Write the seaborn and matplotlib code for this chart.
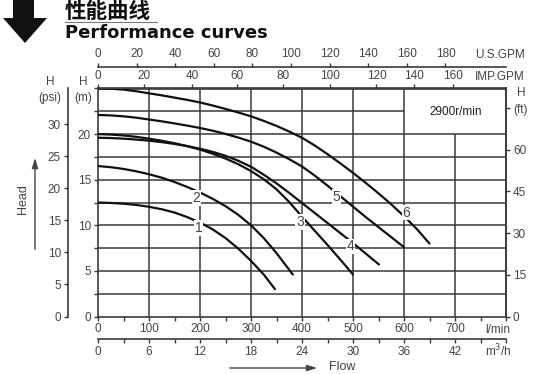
import numpy as np
import pandas as pd
import seaborn as sns
import matplotlib.pyplot as plt
from matplotlib.patches import Polygon
from matplotlib.lines import Line2D
from matplotlib.ticker import MultipleLocator

# ---- data (flow in l/min, head in m) ----
q1 = [0, 25, 50, 75, 100, 125, 150, 175, 200, 225, 250, 275, 300, 325, 347]
h1 = [12.5, 12.45, 12.37, 12.23, 12.03, 11.76, 11.4, 10.9, 10.3, 9.55, 8.6, 7.45, 6.1, 4.6, 3.0]
q2 = [0, 25, 50, 75, 100, 125, 150, 175, 200, 225, 250, 275, 300, 325, 350, 382]
h2 = [16.5, 16.37, 16.18, 15.92, 15.6, 15.22, 14.75, 14.2, 13.6, 12.9, 12.1, 11.15, 10.0, 8.6, 6.95, 4.6]
q3 = [0, 25, 50, 75, 100, 125, 150, 175, 200, 225, 250, 275, 300, 325, 350, 375, 400, 425, 450, 475, 500]
h3 = [20.0, 19.95, 19.85, 19.7, 19.5, 19.27, 19.0, 18.68, 18.3, 17.85, 17.32, 16.7, 15.95, 15.05, 13.95,
      12.55, 10.95, 9.4, 7.85, 6.25, 4.6]
q4 = [0, 25, 50, 75, 100, 125, 150, 175, 200, 225, 250, 275, 300, 325, 350, 375, 400, 425, 450, 475,
      500, 525, 551]
h4 = [19.6, 19.57, 19.5, 19.4, 19.28, 19.12, 18.92, 18.68, 18.4, 18.05, 17.62, 17.08, 16.42, 15.55,
      14.6, 13.55, 12.45, 11.35, 10.25, 9.15, 8.05, 6.9, 5.7]
q5 = [0, 25, 50, 75, 100, 125, 150, 175, 200, 225, 250, 275, 300, 325, 350, 375, 400, 425, 450, 475,
      500, 525, 550, 575, 600]
h5 = [22.1, 22.05, 21.95, 21.8, 21.6, 21.4, 21.17, 20.93, 20.67, 20.37, 20.02, 19.62, 19.17, 18.62,
      17.97, 17.25, 16.45, 15.45, 14.35, 13.2, 12.05, 10.9, 9.8, 8.7, 7.6]
q6 = [0, 25, 50, 75, 100, 125, 150, 175, 200, 225, 250, 275, 300, 325, 350, 375, 400, 425, 450, 475,
      500, 525, 550, 575, 600, 625, 650]
h6 = [25.0, 24.97, 24.88, 24.7, 24.47, 24.25, 24.0, 23.75, 23.47, 23.13, 22.76, 22.37, 21.95, 21.45,
      20.9, 20.28, 19.6, 18.75, 17.8, 16.8, 15.75, 14.65, 13.5, 12.3, 11.0, 9.6, 8.0]

curve_names = ['1', '2', '3', '4', '5', '6']
label_q = [197, 193, 396, 495, 468, 605]
label_h = [9.7, 13.0, 10.35, 7.7, 13.1, 11.4]

flow_ticks = [0, 100, 200, 300, 400, 500, 600, 700]
head_ticks = [0, 5, 10, 15, 20]
psi_ticks = [0, 5, 10, 15, 20, 25, 30]
ft_ticks = [0, 15, 30, 45, 60, 75]
ft_labels = ['0', '15', '30', '45', '60', '(ft)']
usgpm_ticks = [0, 20, 40, 60, 80, 100, 120, 140, 160, 180]
imp_labels = ['0', '20', '40', '60', '80', '100', '120', '140', '160']
imp_pos = [0, 90, 184, 273, 363, 455, 546, 620, 696]   # where the chart puts them (l/min)
m3h_ticks = [0, 6, 12, 18, 24, 30, 36, 42]

df = pd.concat([
    pd.DataFrame({'flow': q, 'head': h, 'curve': n})
    for q, h, n in zip([q1, q2, q3, q4, q5, q6], [h1, h2, h3, h4, h5, h6], curve_names)
])

sns.set_theme(style='white')
plt.rcParams['font.family'] = ['Liberation Sans', 'DejaVu Sans']
GREY = '#3a3a3a'
TXT = '#444444'

W, H = 554, 374
fig = plt.figure(figsize=(W / 100, H / 100), dpi=100)
ax = fig.add_axes([98 / W, (H - 316.5) / H, 408 / W, 228 / H])
ax.set_xlim(0, 800)
ax.set_ylim(0, 25)

# grid (the top right box is left open for the speed note)
grid_q = [100, 200, 300, 400, 500, 600, 700]
grid_top = [25 if q < 700 else 20 for q in grid_q]
ax.vlines(grid_q, 0, grid_top, color=GREY, lw=1.1, zorder=1)
grid_h = [2.5, 5, 7.5, 10, 12.5, 15, 17.5, 20, 22.5]
grid_right = [800 if h < 22 else 600 for h in grid_h]
ax.hlines(grid_h, 0, grid_right, color=GREY, lw=1.1, zorder=1)

sns.lineplot(data=df, x='flow', y='head', hue='curve', units='curve', estimator=None,
             palette={n: '#111111' for n in curve_names}, legend=False, ax=ax,
             lw=1.6, zorder=3)

for n, x, y in zip(curve_names, label_q, label_h):
    ax.text(x, y, n, ha='center', va='center', fontsize=10, color=TXT, zorder=4,
            bbox=dict(boxstyle='square,pad=0.05', fc='white', ec='none'))

ax.text(702, 22.4, '2900r/min', ha='center', va='center', fontsize=8.5, color='#222222')

for s in ax.spines.values():
    s.set_color(GREY)
    s.set_linewidth(1.2)

ax.set_xlabel('')
ax.set_ylabel('')
ax.set_xticks(flow_ticks)
ax.xaxis.set_minor_locator(MultipleLocator(50))
ax.set_yticks(head_ticks)
ax.yaxis.set_minor_locator(MultipleLocator(2.5))
ax.tick_params(which='both', direction='out', length=3, width=1, color=GREY,
               labelsize=8.5, labelcolor=TXT, top=False, right=False,
               bottom=True, left=True, pad=2)

# right: head in ft
sec_ft = ax.secondary_yaxis('right', functions=(lambda m: m / 0.3048, lambda f: f * 0.3048))
sec_ft.set_yticks(ft_ticks, ft_labels)
# left: head in psi
sec_psi = ax.secondary_yaxis(-30 / 408, functions=(lambda m: m * 1.42197, lambda p: p / 1.42197))
sec_psi.set_yticks(psi_ticks)
# top: IMP.GPM and U.S.GPM
sec_imp = ax.secondary_xaxis('top', functions=(lambda q: q, lambda q: q))
sec_imp.set_xticks(imp_pos, imp_labels)
sec_us = ax.secondary_xaxis(1 + 21.5 / 228, functions=(lambda q: q / 3.785, lambda g: g * 3.785))
sec_us.set_xticks(usgpm_ticks)
# bottom: m3/h
sec_m3 = ax.secondary_xaxis(-22.5 / 228, functions=(lambda q: q * 0.06, lambda v: v / 0.06))
sec_m3.set_xticks(m3h_ticks)
sec_m3.xaxis.set_minor_locator(MultipleLocator(3))

for sec in [sec_ft, sec_psi, sec_imp, sec_us, sec_m3]:
    sec.tick_params(which='both', direction='out', length=3, width=1, color=GREY,
                    labelsize=8.5, labelcolor=TXT, pad=2)
    for s in sec.spines.values():
        s.set_color(GREY)
        s.set_linewidth(1.2)

# unit texts
fig.text(498 / W, 1 - 330 / H, 'l/min', ha='center', va='center', fontsize=8.5, color=TXT)
fig.text(498 / W, 1 - 351 / H, 'm$^3$/h', ha='center', va='center', fontsize=8.5, color=TXT)
fig.text(525 / W, 1 - 55 / H, 'U.S.GPM', ha='right', va='center', fontsize=8.5, color=TXT)
fig.text(525 / W, 1 - 77 / H, 'IMP.GPM', ha='right', va='center', fontsize=8.5, color=TXT)
fig.text(50 / W, 1 - 82 / H, 'H', ha='center', va='center', fontsize=8.5, color=TXT)
fig.text(50 / W, 1 - 98 / H, '(psi)', ha='center', va='center', fontsize=8.5, color=TXT)
fig.text(83 / W, 1 - 82 / H, 'H', ha='center', va='center', fontsize=8.5, color=TXT)
fig.text(83 / W, 1 - 98 / H, '(m)', ha='center', va='center', fontsize=8.5, color=TXT)
fig.text(521 / W, 1 - 93 / H, 'H', ha='center', va='center', fontsize=8.5, color=TXT)

# axis names with arrows
fig.text(23 / W, 1 - 199 / H, 'Head', rotation=90, ha='center', va='center', fontsize=9, color=TXT)
ax.annotate('', xy=(35, H - 155), xytext=(35, H - 252), xycoords='figure pixels',
            textcoords='figure pixels',
            arrowprops=dict(arrowstyle='-|>,head_length=0.5,head_width=0.15', color=TXT, lw=1))
fig.text(342 / W, 1 - 367 / H, 'Flow', ha='center', va='center', fontsize=9, color=TXT)
ax.annotate('', xy=(320, H - 368), xytext=(227, H - 368), xycoords='figure pixels',
            textcoords='figure pixels',
            arrowprops=dict(arrowstyle='-|>,head_length=0.5,head_width=0.15', color=TXT, lw=1))

# title block
arrow_px = [(13, 0), (34, 0), (34, 18), (47, 18), (25, 43), (3, 18), (13, 18)]
fig.patches.append(Polygon([(x / W, 1 - y / H) for x, y in arrow_px], closed=True,
                           transform=fig.transFigure, fc='#111111', ec='none'))
fig.text(65 / W, 1 - 12 / H, '性能曲线', family=['Noto Sans CJK SC', 'DejaVu Sans'],
         weight='bold', fontsize=15.5, ha='left', va='center', color='#111111')
fig.add_artist(Line2D([65 / W, 157 / W], [1 - 22 / H, 1 - 22 / H], color='#777777', lw=0.8,
                      transform=fig.transFigure))
fig.text(65 / W, 1 - 33 / H, 'Performance curves', family=['DejaVu Sans'], weight='bold',
         fontsize=13, ha='left', va='center', color='#111111')

fig.savefig('out.png', dpi=100)
